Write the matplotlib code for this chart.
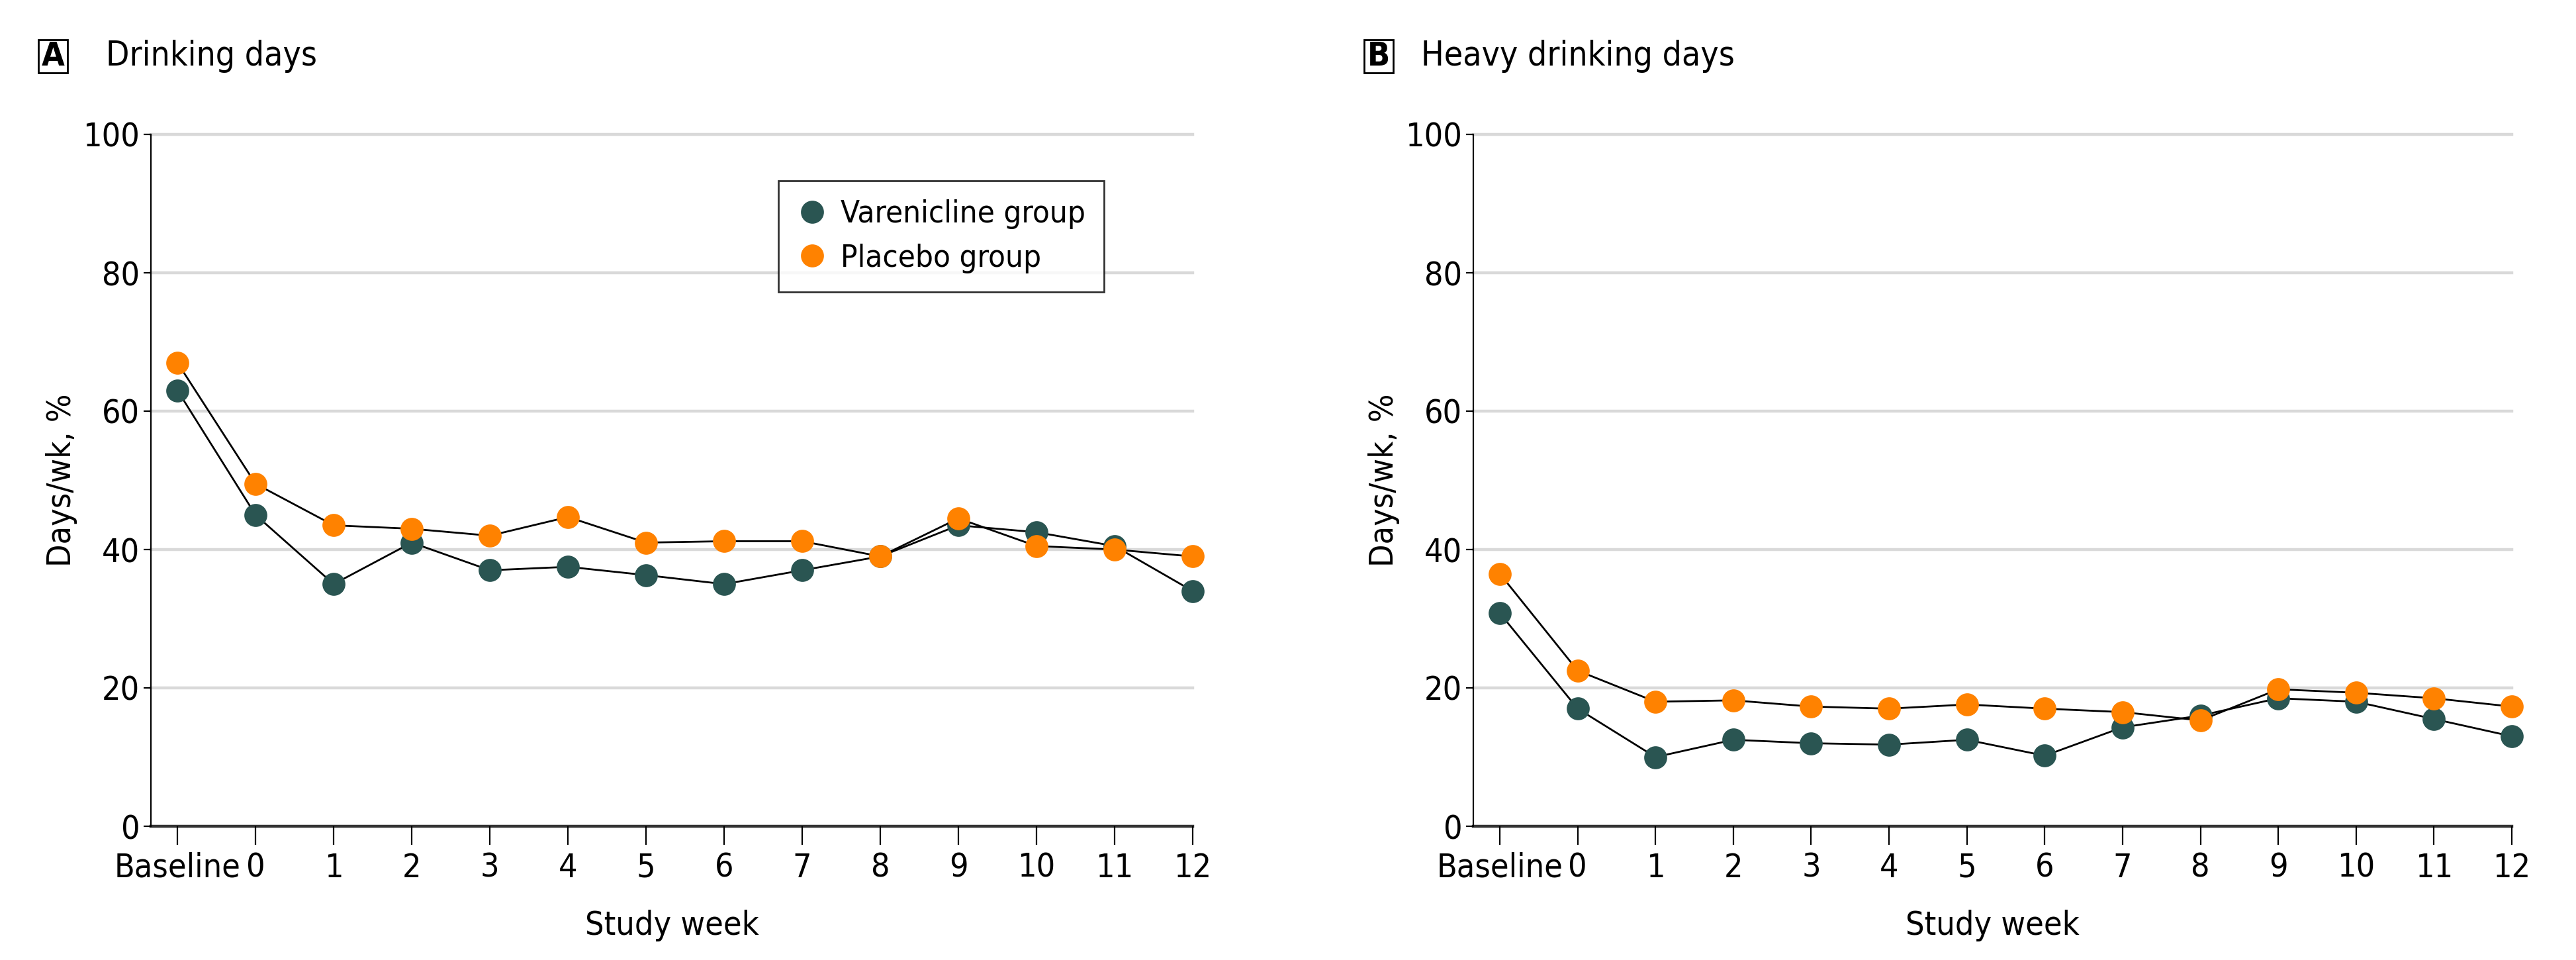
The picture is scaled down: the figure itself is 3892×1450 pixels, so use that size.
import matplotlib
matplotlib.use("Agg")
import matplotlib.pyplot as plt
from matplotlib.lines import Line2D
from matplotlib.patches import Rectangle

weeks = ["Baseline", "0", "1", "2", "3", "4", "5", "6", "7", "8", "9", "10", "11", "12"]

# Panel A: drinking days (% days/wk)
a_varenicline = [63, 45, 35, 41, 37, 37.5, 36.3, 35, 37, 39, 43.5, 42.5, 40.5, 34]
a_placebo = [67, 49.5, 43.5, 43, 42, 44.7, 41, 41.2, 41.2, 39, 44.5, 40.5, 40, 39]

# Panel B: heavy drinking days
b_varenicline = [30.8, 17, 10, 12.5, 12, 11.8, 12.5, 10.2, 14.3, 16, 18.5, 18, 15.5, 13]
b_placebo = [36.5, 22.5, 18, 18.2, 17.3, 17, 17.6, 17, 16.5, 15.3, 19.8, 19.3, 18.5, 17.3]

yticks = [0, 20, 40, 60, 80, 100]
panel_letters = ["A", "B"]
panel_titles = ["Drinking days", "Heavy drinking days"]
series_names = ["Varenicline group", "Placebo group"]

C_VAR = "#2a5552"
C_PLA = "#ff8200"
plt.rcParams["font.family"] = ["DejaVu Sans"]
plt.rcParams["font.stretch"] = "condensed"

W, H = 3892, 1450
fig = plt.figure(figsize=(W / 100, H / 100), dpi=100)

def px_to_fig(x0, y0, x1, y1):
    return [x0 / W, 1 - y1 / H, (x1 - x0) / W, (y1 - y0) / H]

axes_px = [(228, 203, 1802, 1248), (2226, 203, 3795, 1248)]
data = [(a_varenicline, a_placebo), (b_varenicline, b_placebo)]
label_px = [(58, 60, 102, 110, 160), (2061, 60, 2105, 110, 2147)]

x = list(range(len(weeks)))
for i, ((x0, y0, x1, y1), (var, pla)) in enumerate(zip(axes_px, data)):
    ax = fig.add_axes(px_to_fig(x0, y0, x1, y1))
    ax.set_xlim(-0.34, len(weeks) - 1)
    ax.set_ylim(0, 100)
    for yv in yticks[1:]:
        ax.axhline(yv, color="#d9d9d9", lw=3.2, zorder=0, clip_on=False)
    ax.axhline(0, color="#333333", lw=3.2, zorder=1, clip_on=False)
    for sp in ["top", "right", "bottom"]:
        ax.spines[sp].set_visible(False)
    ax.spines["left"].set_linewidth(1.6)
    ax.plot(x, var, color="black", lw=2.0, marker="o", ms=25, mfc=C_VAR, mec="none", zorder=3, clip_on=False)
    ax.plot(x, pla, color="black", lw=2.0, marker="o", ms=25, mfc=C_PLA, mec="none", zorder=4, clip_on=False)
    ax.set_xticks(x)
    ax.set_xticklabels(weeks)
    ax.set_yticks(yticks)
    ax.tick_params(axis="x", length=20, width=1.6, pad=8, labelsize=36, direction="out")
    ax.tick_params(axis="y", length=8, width=1.6, pad=4, labelsize=36)
    ax.set_xlabel("Study week", fontsize=36, labelpad=28)
    ax.set_ylabel("Days/wk, %", fontsize=36, labelpad=6)
    if i == 0:
        handles = [Line2D([], [], ls="none", marker="o", ms=25, mfc=c, mec="none") for c in (C_VAR, C_PLA)]
        leg = ax.legend(handles, series_names, loc="upper left", bbox_to_anchor=(0.602, 0.933),
                        borderaxespad=0, fontsize=34, frameon=True, fancybox=False,
                        handletextpad=0.4, borderpad=0.6, labelspacing=0.45, handlelength=1.0)
        leg.get_frame().set_edgecolor("black")
        leg.get_frame().set_linewidth(2)
    bx0, by0, bx1, by1, tx = label_px[i]
    fig.patches.append(Rectangle((bx0 / W, 1 - by1 / H), (bx1 - bx0) / W, (by1 - by0) / H,
                                 transform=fig.transFigure, fill=False, edgecolor="black", lw=2))
    fig.text((bx0 + bx1) / 2 / W, 1 - (by0 + by1) / 2 / H, panel_letters[i], ha="center", va="center",
             fontsize=36, fontweight="bold")
    fig.text(tx / W, 1 - (by0 + by1) / 2 / H, panel_titles[i], ha="left", va="center", fontsize=37)

fig.savefig("out.png", dpi=100, facecolor="white")
